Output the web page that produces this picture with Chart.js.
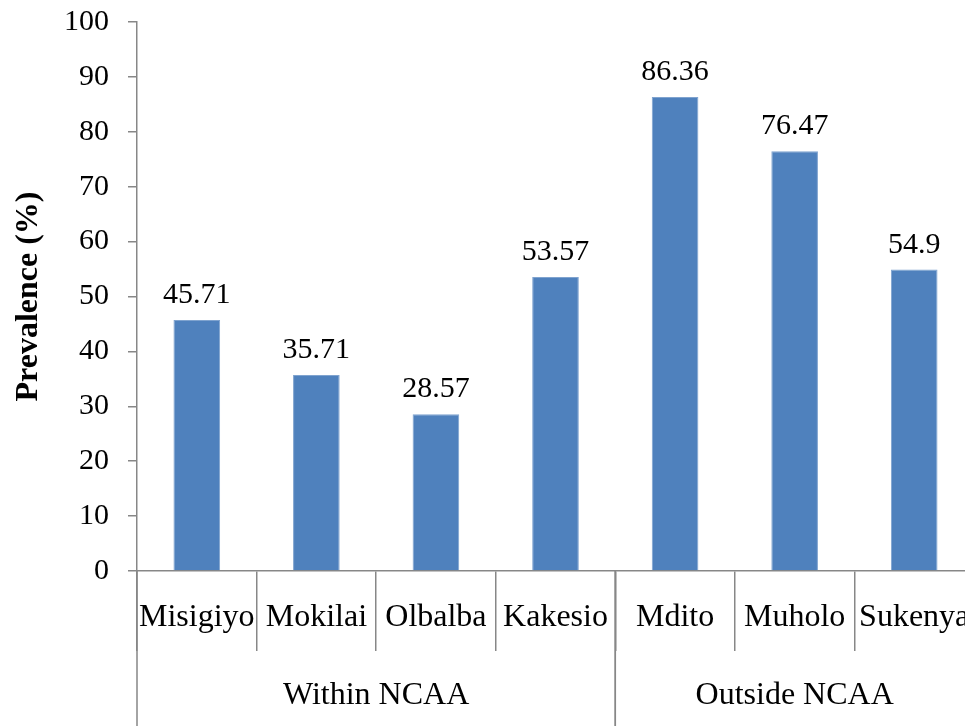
<!DOCTYPE html>
<html>
<head>
<meta charset="utf-8">
<title>Prevalence by village</title>
<script src="https://cdn.jsdelivr.net/npm/chart.js@4"></script>
<style>
    html, body { margin: 0; padding: 0; background: #fff; overflow: hidden; }
    #wrap { position: relative; width: 975px; height: 726px; }
</style>
</head>
<body>
<div id="wrap"><canvas id="prevalenceChart"></canvas></div>
<script>
// Data
const villages = ['Misigiyo', 'Mokilai', 'Olbalba', 'Kakesio', 'Mdito', 'Muholo', 'Sukenya'];
const prevalence = [45.71, 35.71, 28.57, 53.57, 86.36, 76.47, 54.9];
const groupNames = ['Within NCAA', 'Outside NCAA'];
const groupSizes = [4, 3];
const yMin = 0;
const yMax = 100;
const yStep = 10;

const SERIF = "'Liberation Serif', 'Times New Roman', serif";
const FONT_SIZE = 30;
const CAT_FONT_SIZE = 32;
const AXIS_GREY = '#878787';
const BAR_BLUE = '#4f81bd';

// values above the bars
const valueLabels = {
    id: 'valueLabels',
    afterDatasetsDraw(chart) {
        const ctx = chart.ctx;
        const meta = chart.getDatasetMeta(0);
        ctx.save();
        ctx.font = FONT_SIZE + 'px ' + SERIF;
        ctx.fillStyle = '#000';
        ctx.textAlign = 'center';
        ctx.textBaseline = 'alphabetic';
        meta.data.forEach((bar, i) => {
            ctx.fillText(String(prevalence[i]), bar.x, bar.y - 17);
        });
        ctx.restore();
    }
};

// second row of the category axis (Within / Outside NCAA)
const groupAxis = {
    id: 'groupAxis',
    afterDraw(chart) {
        const x = chart.scales.x;
        const ctx = chart.ctx;
        const half = (x.getPixelForValue(1) - x.getPixelForValue(0)) / 2;
        const top = chart.chartArea.bottom;
        let start = 0;
        ctx.save();
        ctx.strokeStyle = AXIS_GREY;
        ctx.lineWidth = 1.5;
        ctx.font = CAT_FONT_SIZE + 'px ' + SERIF;
        ctx.fillStyle = '#000';
        ctx.textAlign = 'center';
        ctx.textBaseline = 'middle';
        groupNames.forEach((name, g) => {
            const end = start + groupSizes[g] - 1;
            const left = x.getPixelForValue(start) - half;
            const right = x.getPixelForValue(end) + half;
            ctx.beginPath();
            ctx.moveTo(left, top);
            ctx.lineTo(left, chart.height);
            ctx.moveTo(right, top);
            ctx.lineTo(right, chart.height);
            ctx.stroke();
            ctx.fillText(name, (left + right) / 2, top + 125);
            start += groupSizes[g];
        });
        ctx.restore();
    }
};

new Chart(document.getElementById('prevalenceChart'), {
    type: 'bar',
    data: {
        labels: villages,
        datasets: [{
            data: prevalence,
            backgroundColor: BAR_BLUE,
            borderColor: '#7fa3cf',
            borderWidth: 1,
            categoryPercentage: 1,
            barPercentage: 0.39
        }]
    },
    options: {
        responsive: true,
        maintainAspectRatio: false,
        animation: false,
        layout: { padding: { top: 22, right: 1, left: 0, bottom: 0 } },
        plugins: {
            legend: { display: false },
            tooltip: { enabled: false }
        },
        scales: {
            x: {
                offset: true,
                grid: {
                    display: true,
                    drawOnChartArea: false,
                    offset: true,
                    tickLength: 80,
                    color: AXIS_GREY,
                    lineWidth: 1.5
                },
                border: { display: true, color: AXIS_GREY, width: 1.5 },
                ticks: {
                    color: '#000',
                    font: { family: SERIF, size: CAT_FONT_SIZE },
                    padding: -53,
                    maxRotation: 0,
                    autoSkip: false
                },
                afterFit(scale) { scale.height = 155; }
            },
            y: {
                min: yMin,
                max: yMax,
                grid: {
                    display: true,
                    drawOnChartArea: false,
                    tickLength: 9,
                    color: AXIS_GREY,
                    lineWidth: 1.5
                },
                border: { display: true, color: AXIS_GREY, width: 1.5 },
                ticks: {
                    stepSize: yStep,
                    color: '#000',
                    padding: 19,
                    font: { family: SERIF, size: FONT_SIZE }
                },
                title: {
                    display: true,
                    text: 'Prevalence (%)',
                    color: '#000',
                    font: { family: SERIF, size: 32, weight: 'bold' },
                    padding: { top: 10, bottom: 0 }
                },
                afterFit(scale) {
                    scale.width = 137;
                    scale.paddingTop = 0;
                    scale.paddingBottom = 0;
                }
            }
        }
    },
    plugins: [valueLabels, groupAxis]
});
</script>
</body>
</html>
